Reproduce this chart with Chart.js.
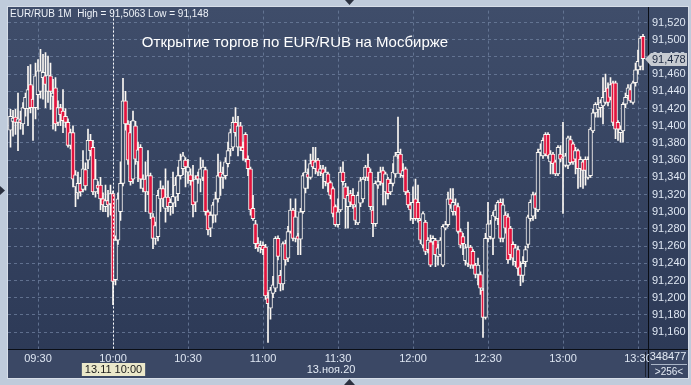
<!DOCTYPE html>
<html lang="ru"><head><meta charset="utf-8">
<script src="https://cdn.jsdelivr.net/npm/chart.js@4.4.1/dist/chart.umd.min.js"></script>
<style>html,body{margin:0;padding:0;background:#bfcbdb;overflow:hidden}canvas{display:block}</style>
</head><body>
<canvas id="c" width="691" height="385"></canvas>
<script>
const instrument = 'EUR/RUB 1M';
const title = 'Открытие торгов по EUR/RUB на Мосбирже';
const startTime = '09:19';
const cursorTime = '10:00';
const cursorDateLabel = '13.11 10:00';
const dateLabel = '13.ноя.20';
const volumeLabel = '348477';
const barsLabel = '>256<';
const xTickLabels = ['09:30','10:00','10:30','11:00','11:30','12:00','12:30','13:00','13:30'];
const yTickValues = [91.16,91.18,91.20,91.22,91.24,91.26,91.28,91.30,91.32,91.34,91.36,91.38,91.40,91.42,91.44,91.46,91.48,91.50,91.52];

const opens = [91.395,91.405,91.410,91.404,91.407,91.402,91.420,91.420,91.448,91.431,
91.421,91.436,91.440,91.456,91.458,91.440,91.458,91.434,91.444,91.404,
91.421,91.417,91.411,91.404,91.377,91.392,91.329,91.322,91.333,91.326,
91.349,91.360,91.383,91.375,91.323,91.331,91.331,91.315,91.306,91.313,
91.309,91.321,91.221,91.267,91.300,91.333,91.429,91.402,91.392,91.338,
91.400,91.358,91.375,91.327,91.338,91.323,91.342,91.294,91.269,91.271,
91.315,91.327,91.304,91.317,91.306,91.310,91.317,91.321,91.342,91.350,
91.360,91.346,91.343,91.336,91.311,91.342,91.338,91.340,91.349,91.300,
91.281,91.296,91.296,91.315,91.346,91.340,91.342,91.356,91.373,91.375,
91.404,91.375,91.400,91.375,91.390,91.361,91.350,91.304,91.286,91.263,
91.258,91.261,91.259,91.200,91.188,91.205,91.211,91.269,91.226,91.216,
91.263,91.246,91.277,91.302,91.269,91.272,91.268,91.300,91.327,91.344,
91.340,91.360,91.350,91.360,91.346,91.350,91.335,91.344,91.334,91.327,
91.306,91.285,91.302,91.346,91.329,91.306,91.321,91.319,91.306,91.287,
91.310,91.315,91.340,91.352,91.346,91.302,91.286,91.331,91.335,91.348,
91.323,91.338,91.323,91.333,91.344,91.366,91.367,91.342,91.350,91.323,
91.308,91.292,91.315,91.311,91.290,91.261,91.288,91.256,91.265,91.265,
91.267,91.248,91.250,91.238,91.281,91.285,91.315,91.300,91.308,91.306,
91.277,91.271,91.243,91.240,91.259,91.254,91.238,91.227,91.227,91.209,
91.177,91.269,91.271,91.269,91.294,91.292,91.311,91.269,91.296,91.294,
91.281,91.262,91.242,91.256,91.236,91.226,91.242,91.262,91.292,91.295,
91.320,91.302,91.369,91.365,91.390,91.390,91.358,91.367,91.358,91.344,
91.367,91.364,91.354,91.354,91.384,91.379,91.361,91.371,91.350,91.358,
91.361,91.340,91.342,91.394,91.415,91.419,91.421,91.423,91.427,91.444,
91.433,91.450,91.450,91.404,91.392,91.394,91.425,91.435,91.442,91.427,
91.450,91.465,91.469,91.504];

const highs = [91.419,91.418,91.419,91.438,91.417,91.427,91.438,91.469,91.471,91.446,
91.473,91.477,91.489,91.483,91.485,91.481,91.473,91.454,91.456,91.429,
91.425,91.442,91.420,91.408,91.396,91.400,91.348,91.346,91.340,91.371,
91.357,91.396,91.390,91.383,91.361,91.335,91.340,91.322,91.331,91.325,
91.331,91.324,91.272,91.322,91.358,91.455,91.440,91.406,91.405,91.417,
91.405,91.381,91.378,91.343,91.358,91.371,91.345,91.298,91.288,91.325,
91.336,91.330,91.350,91.336,91.315,91.346,91.340,91.352,91.367,91.369,
91.363,91.361,91.350,91.354,91.342,91.346,91.363,91.360,91.352,91.302,
91.300,91.311,91.323,91.367,91.358,91.352,91.363,91.381,91.396,91.410,
91.421,91.411,91.404,91.381,91.392,91.365,91.352,91.319,91.290,91.270,
91.266,91.265,91.262,91.206,91.212,91.225,91.271,91.272,91.232,91.265,
91.267,91.283,91.315,91.304,91.315,91.275,91.304,91.345,91.360,91.350,
91.367,91.375,91.375,91.362,91.354,91.354,91.352,91.346,91.336,91.329,
91.308,91.315,91.352,91.358,91.333,91.329,91.325,91.327,91.308,91.323,
91.340,91.340,91.354,91.367,91.350,91.306,91.336,91.346,91.352,91.352,
91.346,91.340,91.338,91.356,91.369,91.410,91.373,91.356,91.352,91.325,
91.311,91.329,91.338,91.331,91.292,91.300,91.290,91.270,91.273,91.272,
91.269,91.262,91.270,91.285,91.289,91.323,91.327,91.327,91.315,91.310,
91.280,91.275,91.262,91.288,91.261,91.256,91.240,91.246,91.230,91.211,
91.275,91.311,91.290,91.300,91.308,91.313,91.315,91.315,91.300,91.298,
91.283,91.265,91.262,91.260,91.242,91.248,91.260,91.296,91.314,91.323,
91.322,91.373,91.379,91.386,91.392,91.392,91.371,91.369,91.360,91.377,
91.377,91.404,91.368,91.388,91.388,91.381,91.375,91.373,91.364,91.360,
91.364,91.364,91.398,91.419,91.427,91.433,91.430,91.456,91.460,91.450,
91.456,91.452,91.452,91.406,91.400,91.427,91.438,91.448,91.448,91.452,
91.473,91.488,91.504,91.5063];

const lows = [91.375,91.388,91.390,91.371,91.396,91.390,91.411,91.400,91.415,91.383,
91.408,91.419,91.432,91.431,91.421,91.427,91.419,91.396,91.394,91.400,
91.400,91.392,91.398,91.375,91.373,91.329,91.306,91.315,91.318,91.323,
91.325,91.350,91.365,91.320,91.317,91.321,91.302,91.300,91.300,91.294,
91.296,91.192,91.215,91.262,91.290,91.330,91.395,91.355,91.331,91.333,
91.355,91.335,91.327,91.323,91.300,91.320,91.292,91.257,91.262,91.266,
91.300,91.306,91.288,91.300,91.296,91.298,91.306,91.313,91.338,91.343,
91.329,91.333,91.331,91.294,91.300,91.333,91.323,91.336,91.296,91.273,
91.271,91.287,91.288,91.311,91.319,91.327,91.338,91.352,91.365,91.371,
91.388,91.365,91.371,91.360,91.358,91.342,91.296,91.290,91.257,91.254,
91.252,91.250,91.198,91.148,91.175,91.200,91.207,91.244,91.208,91.209,
91.238,91.242,91.275,91.266,91.265,91.250,91.250,91.298,91.322,91.327,
91.338,91.350,91.344,91.342,91.342,91.327,91.330,91.323,91.315,91.294,
91.283,91.282,91.300,91.331,91.281,91.281,91.306,91.304,91.285,91.285,
91.306,91.311,91.336,91.336,91.302,91.271,91.283,91.327,91.331,91.308,
91.308,91.315,91.320,91.330,91.340,91.362,91.340,91.340,91.320,91.305,
91.290,91.286,91.290,91.288,91.263,91.258,91.250,91.252,91.236,91.262,
91.236,91.238,91.248,91.236,91.279,91.283,91.304,91.296,91.296,91.275,
91.258,91.250,91.238,91.236,91.234,91.234,91.223,91.215,91.204,91.154,
91.175,91.265,91.268,91.250,91.290,91.285,91.265,91.265,91.275,91.240,
91.244,91.238,91.236,91.226,91.214,91.218,91.236,91.258,91.289,91.290,
91.292,91.300,91.365,91.362,91.365,91.362,91.344,91.344,91.342,91.342,
91.358,91.298,91.352,91.350,91.355,91.355,91.344,91.327,91.329,91.327,
91.331,91.338,91.340,91.392,91.410,91.410,91.410,91.402,91.425,91.423,
91.430,91.400,91.385,91.383,91.381,91.381,91.421,91.431,91.427,91.425,
91.446,91.460,91.465,91.465];

const closes = [91.411,91.409,91.404,91.408,91.404,91.421,91.433,91.442,91.421,91.421,
91.458,91.464,91.464,91.462,91.448,91.459,91.440,91.438,91.402,91.421,
91.413,91.406,91.404,91.377,91.392,91.338,91.343,91.333,91.323,91.350,
91.330,91.383,91.371,91.323,91.338,91.327,91.315,91.308,91.313,91.308,
91.321,91.219,91.267,91.315,91.333,91.429,91.402,91.360,91.335,91.406,
91.361,91.372,91.338,91.338,91.323,91.342,91.298,91.269,91.284,91.319,
91.327,91.315,91.317,91.306,91.311,91.318,91.331,91.342,91.360,91.365,
91.352,91.352,91.336,91.308,91.338,91.338,91.350,91.352,91.300,91.279,
91.296,91.308,91.315,91.342,91.340,91.344,91.358,91.371,91.392,91.404,
91.392,91.400,91.375,91.371,91.361,91.350,91.302,91.292,91.263,91.258,
91.261,91.256,91.202,91.193,91.209,91.215,91.269,91.248,91.216,91.263,
91.244,91.277,91.302,91.269,91.294,91.268,91.300,91.342,91.346,91.340,
91.356,91.352,91.358,91.346,91.350,91.344,91.346,91.333,91.319,91.298,
91.285,91.300,91.346,91.335,91.315,91.319,91.311,91.308,91.290,91.319,
91.336,91.338,91.352,91.340,91.306,91.286,91.333,91.335,91.346,91.333,
91.344,91.321,91.333,91.346,91.365,91.369,91.344,91.348,91.323,91.308,
91.302,91.311,91.292,91.292,91.267,91.298,91.254,91.267,91.238,91.269,
91.250,91.258,91.267,91.283,91.285,91.315,91.308,91.311,91.300,91.277,
91.261,91.263,91.258,91.259,91.238,91.238,91.227,91.238,91.211,91.177,
91.269,91.286,91.286,91.296,91.302,91.311,91.269,91.308,91.281,91.244,
91.250,91.246,91.258,91.234,91.226,91.240,91.256,91.294,91.311,91.320,
91.304,91.369,91.373,91.383,91.367,91.365,91.367,91.356,91.344,91.375,
91.361,91.363,91.365,91.386,91.357,91.358,91.371,91.350,91.361,91.348,
91.348,91.361,91.396,91.415,91.425,91.425,91.427,91.433,91.440,91.427,
91.448,91.404,91.396,91.396,91.396,91.425,91.433,91.444,91.429,91.450,
91.465,91.475,91.502,91.478];

const FONT = '"Liberation Sans", Arial, sans-serif';
const toMin = s => { const p = s.split(':').map(Number); return p[0] * 60 + p[1]; };
const fmt = v => String(v).replace('.', ',');
const t0 = toMin(startTime);
const xPos = closes.map((_, i) => t0 + i);
const bodies = xPos.map((x, i) => ({ x, y: [opens[i], closes[i]] }));
const wicks = xPos.map((x, i) => ({ x, y: [lows[i], highs[i]] }));
const headerText = instrument + '  High = ' + fmt(Math.max(...highs)) + ' Low = ' + fmt(Math.min(...lows));

const cv = document.getElementById('c');
const g2 = cv.getContext('2d');
const panelGrad = g2.createLinearGradient(0, 7, 0, 349);
panelGrad.addColorStop(0, '#3f4d6a');
panelGrad.addColorStop(1, '#2d3a57');
const CANDLE_LINE = '#fbf7f2';
const DOWN_FILL = '#e2133d';
const GRID = 'rgba(112,130,160,0.75)';

function tri(c, pts, color) {
  c.fillStyle = color; c.beginPath(); c.moveTo(pts[0], pts[1]);
  for (let k = 2; k < pts.length; k += 2) c.lineTo(pts[k], pts[k + 1]);
  c.closePath(); c.fill();
}

const frame = {
  id: 'frame',
  beforeDraw(chart) {
    const c = chart.ctx;
    c.save();
    c.fillStyle = '#bfcbdb'; c.fillRect(0, 0, 691, 385);
    c.fillStyle = '#d7dee8'; c.fillRect(7, 6, 682, 373);
    c.fillStyle = panelGrad; c.fillRect(8, 7, 680, 343);
    c.fillStyle = '#3b4865'; c.fillRect(8, 350, 680, 28);
    c.fillStyle = '#0a0e16';
    c.fillRect(8, 349, 680, 1);
    c.fillRect(648, 7, 1, 371);
    tri(c, [345, 0, 354, 0, 349.5, 5], '#2b3140');
    tri(c, [344, 385, 355, 385, 349.5, 379], '#2b3140');
    tri(c, [0, 186, 0, 195, 5, 190.5], '#2b3140');
    c.restore();
  },
  afterDraw(chart) {
    const c = chart.ctx, xs = chart.scales.x, ys = chart.scales.y, a = chart.chartArea;
    c.save();
    const cx = Math.round(xs.getPixelForValue(toMin(cursorTime))) + 0.5;
    c.strokeStyle = '#ffffff'; c.lineWidth = 1; c.setLineDash([2, 2]);
    c.beginPath(); c.moveTo(cx, a.top); c.lineTo(cx, a.bottom); c.stroke();
    c.setLineDash([]);
    c.textBaseline = 'middle';
    c.font = '10px ' + FONT; c.fillStyle = '#eef2f8'; c.textAlign = 'left';
    c.fillText(headerText, 10, 14);
    c.font = '15px ' + FONT; c.fillStyle = '#ffffff'; c.textAlign = 'center';
    c.fillText(title, 295, 43);
    const last = closes[closes.length - 1];
    const py = Math.round(ys.getPixelForValue(last));
    tri(c, [645, py, 651, py - 6, 687, py - 6, 687, py + 7, 651, py + 7], '#c7cbd1');
    c.font = '11px ' + FONT; c.fillStyle = '#1b2740'; c.textAlign = 'left';
    c.fillText(fmt(last), 652, py + 1);
    c.fillStyle = '#3b4865'; c.fillRect(649, 350, 39, 28);
    c.fillStyle = '#1c2230'; c.fillRect(645, 352, 1, 25);
    c.fillStyle = '#aab6c8'; c.fillRect(651, 364, 36, 1);
    c.fillStyle = '#e4ebf5'; c.textAlign = 'center'; c.font = '11px ' + FONT;
    c.fillText(volumeLabel, 668, 357);
    c.font = '10px ' + FONT;
    c.fillText(barsLabel, 669, 372);
    c.font = '11px ' + FONT;
    const w = c.measureText(cursorDateLabel).width + 6;
    c.fillStyle = '#ebe8ca'; c.fillRect(cx - w / 2, 363, w, 13);
    c.fillStyle = '#1a1a1a'; c.fillText(cursorDateLabel, cx, 370);
    c.fillStyle = '#e4ebf5';
    c.fillText(dateLabel, 331, 370);
    c.restore();
  }
};

new Chart(cv, {
  type: 'bar',
  data: {
    datasets: [
      {
        label: 'body', data: bodies, order: 0, grouped: false,
        barThickness: 4, borderWidth: 1, borderSkipped: false,
        borderColor: CANDLE_LINE,
        backgroundColor: ctx => (closes[ctx.dataIndex] < opens[ctx.dataIndex] ? DOWN_FILL : panelGrad)
      },
      {
        label: 'wick', data: wicks, order: 1, grouped: false,
        barThickness: 1, borderWidth: 0, backgroundColor: CANDLE_LINE
      }
    ]
  },
  options: {
    responsive: false, animation: false, devicePixelRatio: 1,
    layout: { padding: { left: 8, top: 8, right: 0, bottom: 0 } },
    plugins: { legend: { display: false }, tooltip: { enabled: false } },
    scales: {
      x: {
        type: 'linear', offset: false, min: t0 - 1, max: t0 + 255,
        afterFit: s => { s.height = 36; },
        afterBuildTicks: s => { s.ticks = xTickLabels.map(l => ({ value: toMin(l) })); },
        ticks: { callback: (v, i) => xTickLabels[i], color: '#dfe7f3', font: { size: 11, family: FONT }, padding: 3, maxRotation: 0, autoSkip: false },
        grid: { color: GRID, drawTicks: false, offset: false },
        border: { display: false, dash: [3, 3] }
      },
      y: {
        position: 'right', min: 91.1404, max: 91.5339, beginAtZero: false,
        afterFit: s => { s.width = 43; },
        afterBuildTicks: s => { s.ticks = yTickValues.map(v => ({ value: v })); },
        ticks: { callback: v => v.toFixed(3).replace('.', ','), color: '#dfe7f3', font: { size: 11, family: FONT }, padding: 4, crossAlign: 'near' },
        grid: { color: GRID, drawTicks: false },
        border: { display: false, dash: [3, 3] }
      }
    }
  },
  plugins: [frame]
});
</script>
</body></html>
